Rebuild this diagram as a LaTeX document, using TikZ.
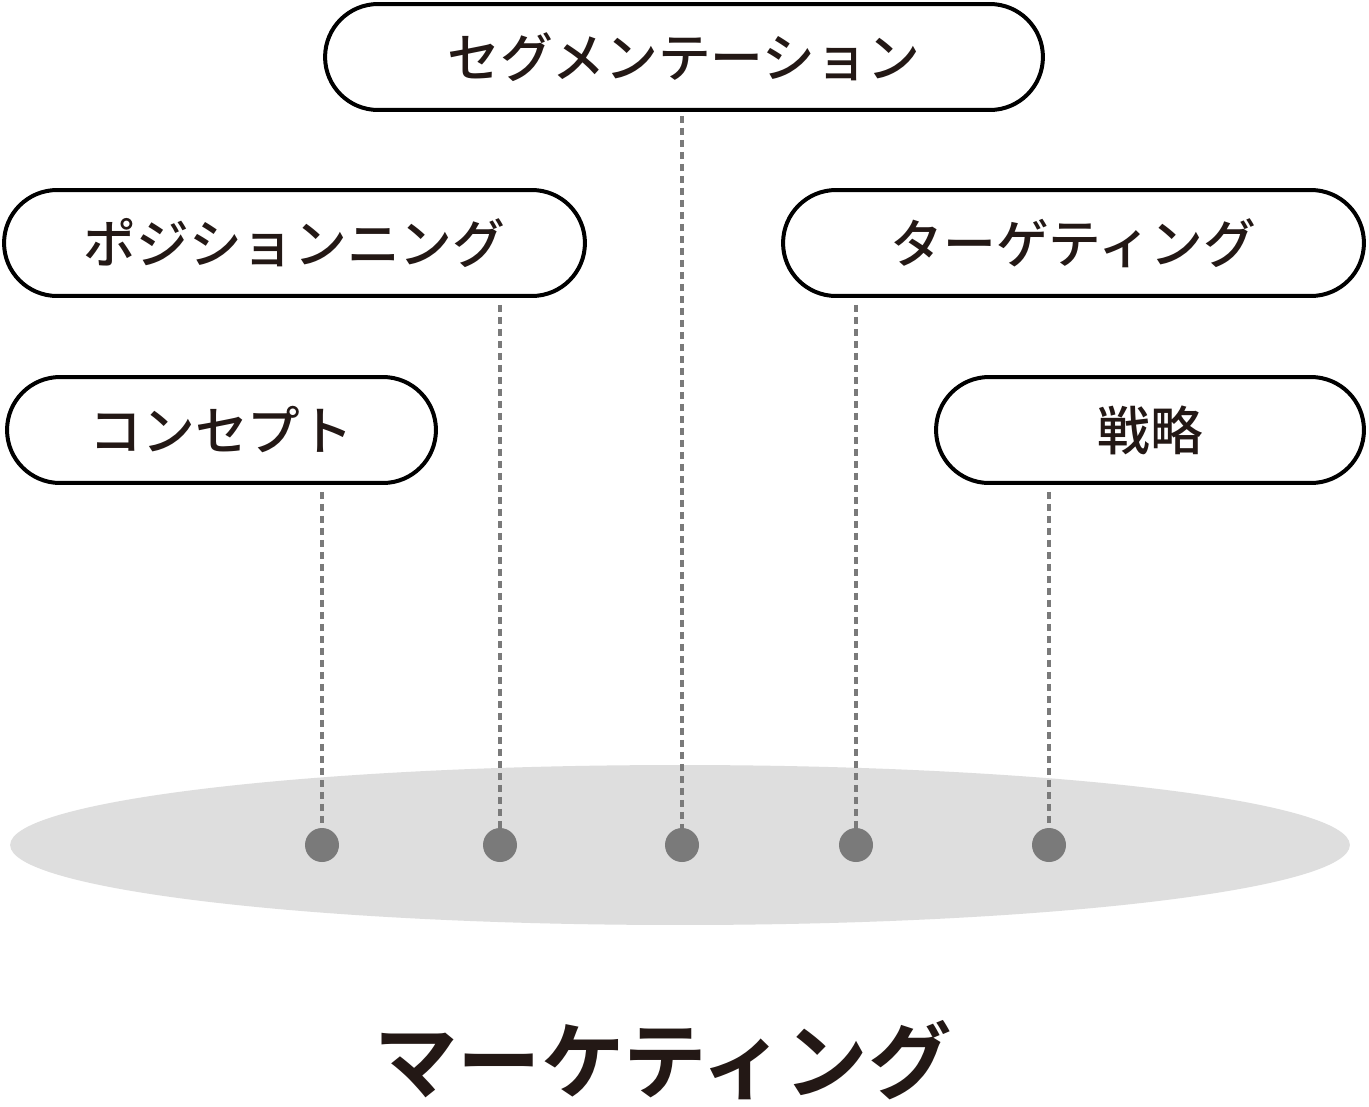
\documentclass[tikz,border=0pt]{standalone}
\usepackage{fontspec}
\newfontfamily\cjk[UprightFont={* Medium}, BoldFont={* Bold}]{Noto Sans CJK JP}
\usepackage{tikz}
\usetikzlibrary{calc}
\usetikzlibrary{shapes}
\definecolor{inkblack}{HTML}{231815}
\definecolor{dotgray}{HTML}{7A7A7A}
\definecolor{fieldgray}{HTML}{DEDEDE}
\tikzset{
  pill/.style={rectangle, draw=black, line width=0.08cm, rounded corners=1.06cm,
    minimum height=2.12cm, fill=white, text=inkblack,
    font=\cjk\fontsize{30}{30}\selectfont},
  spot/.style={circle, fill=dotgray, inner sep=0pt, minimum size=0.68cm},
  guide/.style={draw=dotgray, line width=0.07cm, dash pattern=on 0.14cm off 0.1cm}
}
\begin{document}
\begin{tikzpicture}[x=0.02cm, y=-0.02cm]
\fill [white] (0, 0) rectangle (1369, 1106);
\useasboundingbox (0, 0) rectangle (1369, 1106);
% field
\fill [fieldgray] (680, 845) ellipse [x radius=13.4cm, y radius=1.6cm];
% boxes
\node [pill, minimum width=14.36cm] (segment) at (684, 57) {セグメンテーション};
\node [pill, minimum width=11.62cm] (position) at (294.5, 243) {ポジションニング};
\node [pill, minimum width=11.62cm] (target) at (1073.5, 243) {ターゲティング};
\node [pill, minimum width=8.58cm] (concept) at (221.5, 430) {コンセプト};
\node [pill, minimum width=8.56cm] (strategy) at (1150, 430) {戦略};
% dots
\node [spot] (d1) at (322, 845) {};
\node [spot] (d2) at (500, 845) {};
\node [spot] (d3) at (682, 845) {};
\node [spot] (d4) at (856, 845) {};
\node [spot] (d5) at (1049, 845) {};
\draw [guide] ($(concept.south -| d1) + (0, 7)$) to (d1);
\draw [guide] ($(position.south -| d2) + (0, 7)$) to (d2);
\draw [guide] ($(segment.south -| d3) + (0, 4)$) to (d3);
\draw [guide] ($(target.south -| d4) + (0, 7)$) to (d4);
\draw [guide] ($(strategy.south -| d5) + (0, 7)$) to (d5);
% title
\node [text=inkblack, font=\cjk\bfseries\fontsize{47.5}{48}\selectfont] (title) at (663, 1060) {マーケティング};
\end{tikzpicture}
\end{document}
